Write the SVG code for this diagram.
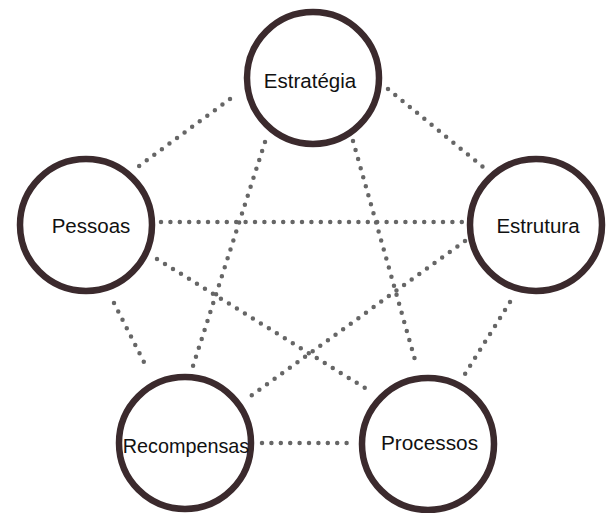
<svg xmlns="http://www.w3.org/2000/svg" width="606" height="513" viewBox="0 0 606 513">
<style>
.node{fill:#fff;stroke:#3b2a2d;stroke-width:6.5}
.lbl{font-family:"Liberation Sans",Arial,sans-serif;font-size:20.5px;fill:#111;text-anchor:middle}
.dot{stroke:#666;stroke-width:4.5;stroke-linecap:round;stroke-dasharray:0 9.4;fill:none}
</style>
<rect width="606" height="513" fill="#fff"/>
<g id="connectors">
<line class="dot" x1="230" y1="99" x2="139" y2="166"/>
<line class="dot" x1="388" y1="89" x2="483" y2="167"/>
<line class="dot" x1="161" y1="222" x2="462" y2="222"/>
<line class="dot" x1="265" y1="142" x2="193" y2="366"/>
<line class="dot" x1="353" y1="141" x2="417" y2="367"/>
<line class="dot" x1="157" y1="259" x2="365" y2="388"/>
<line class="dot" x1="465" y1="241" x2="248" y2="398"/>
<line class="dot" x1="114" y1="303" x2="148" y2="370"/>
<line class="dot" x1="510" y1="302" x2="465" y2="374"/>
<line class="dot" x1="262" y1="443" x2="347" y2="443"/>
<circle cx="368" cy="80" r="1.5" fill="#555"/>
</g>
<g id="estrategia"><circle class="node" cx="313" cy="78" r="66"/><text class="lbl" x="310" y="88" font-size="21">Estratégia</text></g>
<g id="pessoas"><circle class="node" cx="86" cy="225" r="66"/><text class="lbl" x="91" y="233">Pessoas</text></g>
<g id="estrutura"><circle class="node" cx="536" cy="225" r="66"/><text class="lbl" x="538" y="233">Estrutura</text></g>
<g id="recompensas"><circle class="node" cx="185" cy="443" r="66"/><text class="lbl" x="186" y="453" style="font-size:19.8px">Recompensas</text></g>
<g id="processos"><circle class="node" cx="428" cy="444" r="66"/><text class="lbl" x="429.5" y="450" style="font-size:20.8px">Processos</text></g>
</svg>
